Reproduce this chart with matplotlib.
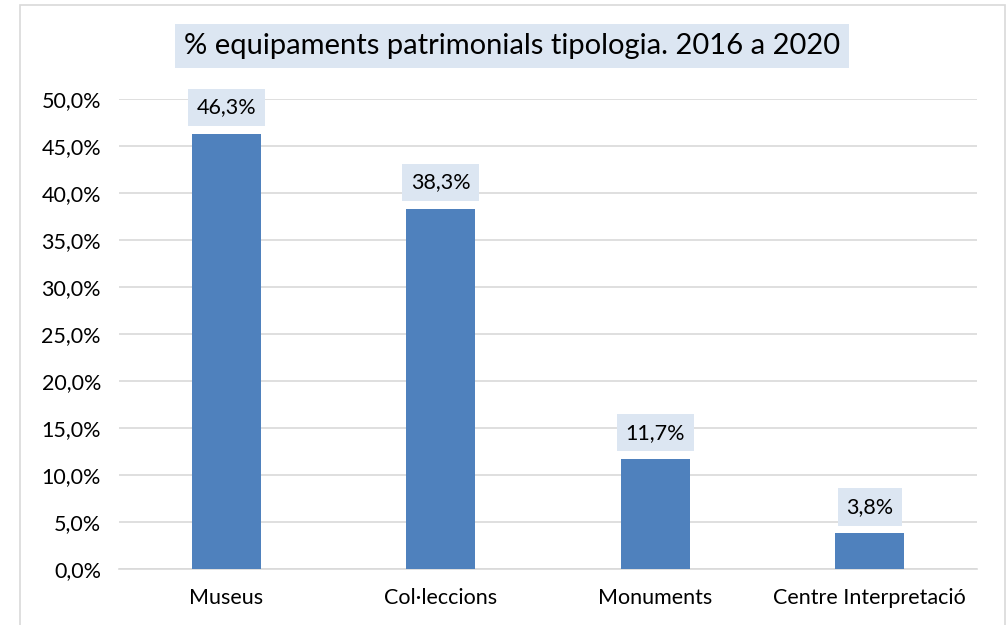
import matplotlib.pyplot as plt
from matplotlib.patches import Rectangle

categories = ["Museus", "Col·leccions", "Monuments", "Centre Interpretació"]
values = [46.3, 38.3, 11.7, 3.8]
yticks = [0, 5, 10, 15, 20, 25, 30, 35, 40, 45, 50]

plt.rcParams['font.family'] = ['Lato', 'DejaVu Sans']

fig = plt.figure(figsize=(10.07, 6.25), dpi=100)
ax = fig.add_axes([119/1007, 1-569/625, (977-119)/1007, (569-99)/625])

# outer chart border (cut at bottom like the reference)
fig.patches.append(Rectangle((20/1007, -0.05), 985/1007, 1.05 - 5/625,
                             transform=fig.transFigure, fill=False,
                             edgecolor='#d9d9d9', lw=1.2))

x = range(len(categories))
ax.bar(x, values, width=0.32, color='#4f81bd', zorder=3)
ax.set_xlim(-0.5, len(categories) - 0.5)
ax.set_ylim(0, 50)
ax.set_yticks(yticks)
ax.set_yticklabels([("%.1f%%" % t).replace('.', ',') for t in yticks], fontsize=15.5)
ax.set_xticks(list(x))
ax.set_xticklabels(categories, fontsize=15.5)
ax.tick_params(length=0)
ax.tick_params(axis='y', pad=13)
ax.tick_params(axis='x', pad=14)
ax.grid(axis='y', color='#d9d9d9', lw=1.2, zorder=0)
for s in ['left', 'right', 'top']:
    ax.spines[s].set_visible(False)
ax.spines['bottom'].set_color('#d9d9d9')
ax.spines['bottom'].set_linewidth(1.2)

for i, v in enumerate(values):
    ax.annotate(("%.1f%%" % v).replace('.', ','), (i, v), xytext=(0, 19),
                textcoords='offset points', ha='center', va='center',
                fontsize=15.5, zorder=4,
                bbox=dict(boxstyle='square,pad=0.4', fc='#dce6f2', ec='none'))

fig.text(512/1007, 1-46/625, "% equipaments patrimonials tipologia. 2016 a 2020",
         ha='center', va='center', fontsize=21,
         bbox=dict(boxstyle='square,pad=0.3', fc='#dce6f2', ec='none'))

fig.savefig("out.png", dpi=100)
